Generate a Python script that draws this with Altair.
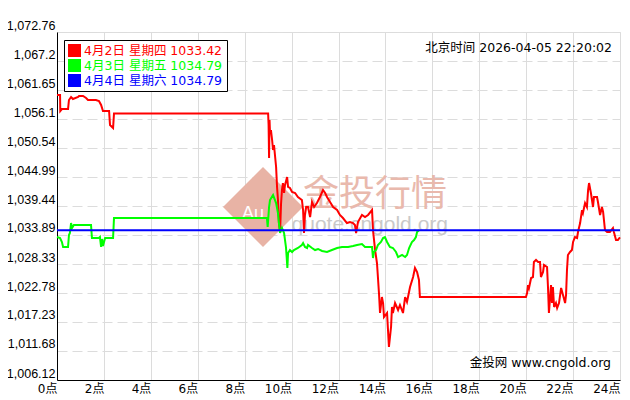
import altair as alt
import pandas as pd

TITLE = "黄金T+D 72小时行情走势图"
TIME_TEXT = "北京时间 2026-04-05 22:20:02"
SOURCE_TEXT = "金投网 www.cngold.org"
WM_CN = "金投行情"
WM_URL = "quote.cngold.org"
WM_AU = "Au"

SERIES = ["4月2日 星期四 1033.42", "4月3日 星期五 1034.79", "4月4日 星期六 1034.79"]
COLORS = ["#ff0000", "#00ff00", "#0000ff"]

X_TICKS = [0, 2, 4, 6, 8, 10, 12, 14, 16, 18, 20, 22, 24]
Y_TICKS = [1006.12, 1011.68, 1017.23, 1022.78, 1028.33, 1033.89, 1039.44,
           1044.99, 1050.54, 1056.1, 1061.65, 1067.2, 1072.76]

RED_H = [0.00, 0.13, 0.14, 0.21, 0.47, 0.51, 0.60, 0.68, 0.90, 0.94, 1.11, 1.24, 1.32, 1.66,
         1.79, 1.88, 1.96, 2.22, 2.26, 2.39, 2.43, 9.00, 9.02, 9.04, 9.06, 9.08, 9.12, 9.17,
         9.21, 9.25, 9.34, 9.38, 9.42, 9.46, 9.51, 9.55, 9.59, 9.63, 9.68, 9.72, 9.81, 9.85,
         9.93, 10.02, 10.15, 10.27, 10.44, 10.49, 10.53, 10.57, 10.62, 10.70, 10.79, 10.87,
         10.96, 11.08, 11.21, 11.34, 11.43, 11.51, 11.64, 11.77, 11.94, 12.06, 12.19, 12.36,
         12.49, 12.62, 12.70, 12.75, 12.83, 13.00, 13.13, 13.26, 13.43, 13.47, 13.56, 13.64,
         13.68, 13.73, 13.77, 13.85, 13.90, 13.94, 14.07, 14.11, 14.15, 14.24, 14.28, 14.32,
         14.41, 14.54, 14.62, 14.75, 14.84, 14.92, 15.05, 15.18, 15.26, 15.35, 15.43, 15.47,
         19.99, 20.04, 20.08, 20.12, 20.21, 20.29, 20.33, 20.42, 20.51, 20.59, 20.63, 20.72,
         20.76, 20.89, 20.93, 20.97, 21.06, 21.10, 21.14, 21.19, 21.27, 21.32, 21.40, 21.49,
         21.57, 21.66, 21.70, 21.74, 21.78, 21.87, 21.95, 22.00, 22.08, 22.17, 22.21, 22.30,
         22.38, 22.42, 22.51, 22.59, 22.64, 22.68, 22.76, 22.85, 22.89, 23.02, 23.06, 23.15,
         23.23, 23.28, 23.36, 23.45, 23.57, 23.70, 23.74, 23.83, 23.91, 24.00]
RED_P = [1060.70, 1060.70, 1057.63, 1058.01, 1058.01, 1059.74, 1060.31, 1059.93, 1060.31,
         1060.50, 1060.50, 1060.12, 1059.74, 1059.74, 1059.55, 1058.78, 1057.63, 1057.63,
         1054.95, 1054.38, 1057.15, 1057.15, 1054.95, 1048.63, 1055.91, 1053.42, 1053.99,
         1052.08, 1050.16, 1051.12, 1046.91, 1043.08, 1040.59, 1036.18, 1034.46, 1039.82,
         1042.50, 1043.84, 1041.93, 1043.46, 1044.99, 1043.08, 1042.89, 1042.12, 1041.93,
         1041.16, 1040.59, 1038.67, 1034.27, 1037.72, 1039.25, 1039.25, 1037.33, 1040.21,
         1039.25, 1040.01, 1041.16, 1042.50, 1041.93, 1041.16, 1040.21, 1039.25, 1038.67,
         1037.72, 1037.14, 1036.18, 1036.38, 1036.18, 1035.80, 1034.27, 1036.38, 1037.72,
         1037.33, 1037.72, 1038.67, 1034.84, 1031.01, 1028.52, 1025.84, 1022.40, 1018.95,
         1022.01, 1020.86, 1018.18, 1018.95, 1015.69, 1012.44, 1016.27, 1020.10, 1018.95,
         1020.86, 1019.52, 1020.48, 1018.95, 1022.01, 1021.06, 1023.93, 1025.84, 1027.57,
         1026.80, 1025.27, 1022.01, 1022.01, 1022.78, 1024.31, 1023.74, 1025.65, 1025.84,
         1028.72, 1029.10, 1028.72, 1028.72, 1025.84, 1026.80, 1028.14, 1027.76, 1023.93,
         1018.95, 1024.31, 1020.86, 1023.93, 1020.10, 1020.86, 1019.91, 1020.86, 1023.74,
         1022.40, 1020.86, 1022.40, 1027.18, 1030.06, 1030.63, 1031.01, 1032.55, 1033.50,
         1033.31, 1034.46, 1036.18, 1038.67, 1038.10, 1040.01, 1039.25, 1042.50, 1043.84,
         1041.93, 1039.25, 1041.16, 1041.16, 1040.21, 1037.72, 1039.25, 1038.29, 1034.84,
         1034.46, 1034.46, 1035.23, 1034.46, 1032.93, 1032.93, 1033.42]

GREEN_H = [0.00, 0.13, 0.21, 0.26, 0.47, 0.51, 0.55, 0.60, 0.64, 0.72, 1.45, 1.49, 1.79, 1.83,
           1.88, 1.92, 1.96, 2.05, 2.39, 2.43, 8.95, 8.98, 9.04, 9.08, 9.21, 9.34, 9.42, 9.46,
           9.51, 9.59, 9.68, 9.76, 9.79, 9.82, 9.85, 9.93, 10.02, 10.10, 10.27, 10.44, 10.49,
           10.57, 10.66, 10.70, 10.87, 11.00, 11.13, 11.30, 11.51, 11.72, 11.94, 12.15, 12.41,
           12.62, 12.79, 13.00, 13.13, 13.26, 13.43, 13.47, 13.51, 13.60, 13.68, 13.81, 13.90,
           13.98, 14.07, 14.19, 14.32, 14.45, 14.54, 14.71, 14.84, 14.92, 15.01, 15.13, 15.22,
           15.30, 15.35, 15.43]
GREEN_P = [1033.50, 1033.31, 1032.55, 1031.59, 1031.59, 1033.89, 1034.27, 1036.18, 1035.23,
           1035.80, 1035.80, 1033.31, 1033.31, 1033.50, 1031.59, 1033.12, 1031.78, 1033.31,
           1033.31, 1037.14, 1037.14, 1035.42, 1039.25, 1040.59, 1041.55, 1040.01, 1038.10,
           1036.18, 1034.27, 1035.23, 1034.27, 1031.59, 1029.67, 1027.57, 1030.44, 1031.01,
           1030.63, 1031.01, 1031.40, 1031.97, 1032.35, 1031.59, 1031.40, 1031.97, 1031.40,
           1031.01, 1031.21, 1030.82, 1030.63, 1031.01, 1031.40, 1031.59, 1031.59, 1031.78,
           1031.97, 1032.16, 1031.59, 1031.59, 1031.59, 1029.48, 1030.63, 1031.01, 1031.97,
           1032.55, 1033.31, 1033.50, 1032.55, 1031.59, 1031.40, 1030.63, 1029.67, 1030.06,
           1029.67, 1030.06, 1031.40, 1032.55, 1032.93, 1033.50, 1034.46, 1034.79]

BLUE_H = [0.0, 24.0]
BLUE_P = [1034.79, 1034.79]

FONT = "DejaVu Sans, Noto Sans CJK SC"
NUM_FONT = "Liberation Sans"

rows = []
for name, hs, ps in zip(SERIES, [RED_H, GREEN_H, BLUE_H], [RED_P, GREEN_P, BLUE_P]):
    for i, (h, p) in enumerate(zip(hs, ps)):
        rows.append({"series": name, "h": h, "p": p, "idx": i})
df = pd.DataFrame(rows)

color_scale = alt.Scale(domain=SERIES, range=COLORS)

x_enc = alt.X(
    "h:Q",
    scale=alt.Scale(domain=[0, 24], nice=False, zero=False),
    axis=alt.Axis(values=X_TICKS, labelExpr="datum.value + '点'", title=None, ticks=False,
                  grid=True, gridColor="#dcdcdc", labelAlign="right", labelBaseline="top",
                  labelPadding=3, labelFontSize=12, labelFont=FONT, labelColor="black",
                  domainColor="black", labelFlush=False, labelOverlap=False),
)
y_enc = alt.Y(
    "p:Q",
    scale=alt.Scale(domain=[Y_TICKS[0], Y_TICKS[-1]], nice=False, zero=False),
    axis=alt.Axis(values=Y_TICKS, format=",.2~f", title=None, ticks=False, grid=True,
                  gridColor="#dcdcdc", gridDash=[10, 5], labelBaseline="bottom",
                  labelPadding=2, labelFontSize=12.5, labelFont=NUM_FONT, labelColor="black",
                  domainColor="black", labelFlush=False, labelOverlap=False),
)

label_color_expr = ("[" + ",".join(f"'{c}'" for c in COLORS) + "][indexof(["
                    + ",".join(f"'{s}'" for s in SERIES) + "], datum.label)]")

legend_layer = alt.Chart(df).transform_filter("false").mark_square(filled=True).encode(
    color=alt.Color(
        "series:N", scale=color_scale,
        legend=alt.Legend(orient="none", legendX=7, legendY=8, title=None,
                          strokeColor="black", fillColor="white", padding=4,
                          symbolType="square", symbolSize=169, symbolStrokeWidth=0,
                          symbolOpacity=1, labelFontSize=12.5, labelFont=FONT, labelOffset=3,
                          rowPadding=2, labelLimit=300,
                          labelColor={"expr": label_color_expr}),
    )
)

lines = alt.Chart(df).mark_line(strokeWidth=2, interpolate="linear").encode(
    x=x_enc, y=y_enc,
    color=alt.Color("series:N", scale=color_scale, legend=None),
    order=alt.Order("idx:Q"),
)

wm_diamond = alt.Chart(pd.DataFrame({"t": [WM_AU]})).mark_point(
    shape="diamond", filled=True, size=6400, color="#e8b3a5", opacity=1
).encode(x=alt.value(206), y=alt.value(175))
wm_au = alt.Chart(pd.DataFrame({"t": [WM_AU]})).mark_text(
    fontSize=18, color="white", font="Liberation Sans", align="center", baseline="middle"
).encode(text="t:N", x=alt.value(196), y=alt.value(182))
wm_cn = alt.Chart(pd.DataFrame({"t": [WM_CN]})).mark_text(
    fontSize=36, color="#e9b9ad", font="Noto Sans CJK SC", align="left", baseline="middle"
).encode(text="t:N", x=alt.value(246), y=alt.value(163))
wm_url = alt.Chart(pd.DataFrame({"t": [WM_URL]})).mark_text(
    fontSize=21, color="#c9c9c9", font="Liberation Sans", align="right", baseline="alphabetic"
).encode(text="t:N", x=alt.value(391), y=alt.value(199))

time_txt = alt.Chart(pd.DataFrame({"t": [TIME_TEXT]})).mark_text(
    fontSize=12.5, color="black", font=FONT, align="right", baseline="middle"
).encode(text="t:N", x=alt.value(555), y=alt.value(16))
src_txt = alt.Chart(pd.DataFrame({"t": [SOURCE_TEXT]})).mark_text(
    fontSize=12.5, color="black", font=FONT, align="right", baseline="middle"
).encode(text="t:N", x=alt.value(554), y=alt.value(331))

chart = alt.layer(
    wm_diamond, wm_au, wm_cn, wm_url, legend_layer, lines, time_txt, src_txt
).properties(
    width=563, height=348,
    title=alt.Title(TITLE, fontSize=12, fontWeight="normal", font=FONT, anchor="middle",
                    offset=9, color="black"),
    autosize=alt.AutoSizeParams(type="none"),
    padding={"left": 49, "top": 24, "right": 2, "bottom": 20},
).configure_view(stroke="black", strokeWidth=1).configure(background="white")

chart.save("out.html", embed_options={"renderer": "svg", "actions": False})
